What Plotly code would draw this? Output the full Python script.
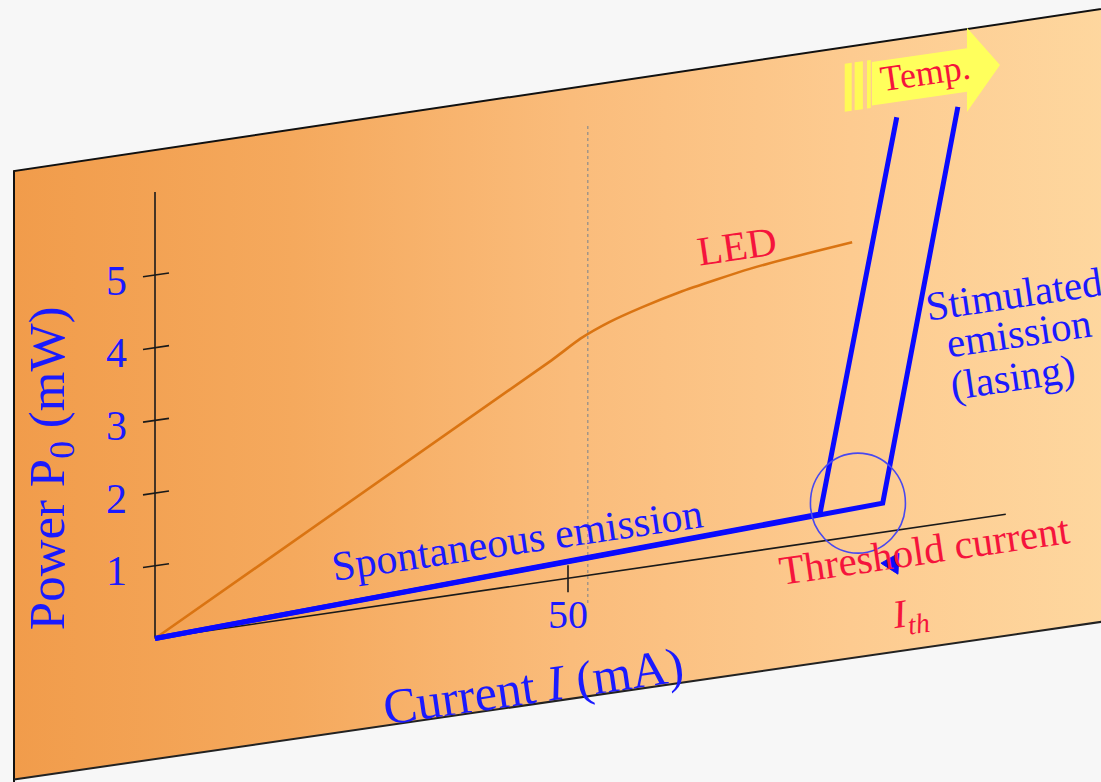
import math
import plotly.graph_objects as go

# ---------------------------------------------------------------------------
# Data: optical output power P (mW) versus drive current I (mA)
# ---------------------------------------------------------------------------
POWER_TICKS = [1, 2, 3, 4, 5]
CURRENT_TICKS = [50]
CURRENT_MAX = 103.0
POWER_MAX = 6.14

# LED: linear at low current, saturating at high current
LED_I = [0, 48.0, 51.5, 55.0, 59.0, 63.5, 68.0, 72.0, 76.0, 80.0, 84.4]
LED_P = [0, 3.03, 3.27, 3.44, 3.58, 3.71, 3.81, 3.89, 3.95, 4.00, 4.05]

# Laser diode at two temperatures: spontaneous emission up to threshold, then lasing
LASER_LOW_I = [0, 80.5, 89.8]
LASER_LOW_P = [0, 0.377, 5.68]
LASER_HIGH_I = [0, 88.1, 97.2]
LASER_HIGH_P = [0, 0.40, 5.70]

# LED knee guide (vertical dotted line)
KNEE_I = 52.4
KNEE_P_RANGE = [-0.38, 6.19]

# Threshold marker centre and temperature arrow (in I, P units)
THRESH_MARK = (85.1, 0.45)
TEMP_ARROW_I = [83.5, 86.8, 98.3, 102.3]   # stripes start, body start, head start, tip
TEMP_ARROW_P = 6.19

# Label anchors (I, P)
LABELS = {
    "LED": (70.5, 4.23),
    "Spontaneous emission": (43.9, 0.63),
    "Stimulated": (104.0, 3.02),
    "emission": (104.6, 2.47),
    "(lasing)": (103.8, 1.88),
    "Threshold current": (93.2, -0.33),
    "Ith": (91.4, -1.19),
    "Temp.": (93.2, 6.23),
    "xtitle": (45.8, -1.41),
    "ytitle": (-12.6, 2.55),
}

# ---------------------------------------------------------------------------
# Sheared drawing frame (the slide is drawn in an oblique view)
# ---------------------------------------------------------------------------
W, H = 1101, 782
X0, Y0 = 155.0, 638.5      # pixel position of the origin
SX, SY = 8.26, 72.7        # px per mA, px per mW
SHEAR = 0.146              # rise of the current axis per pixel
ANGLE = -math.degrees(math.atan(SHEAR))

SERIF = "Liberation Serif, Times New Roman, serif"
BLUE = "#1a1aff"
LINE_BLUE = "#0a0aff"
RED = "#f5143c"
ORANGE_LINE = "#da7412"


def to_px(i, p):
    x = X0 + SX * i
    y = Y0 - SHEAR * SX * i - SY * p
    return x, y


def path(I, P):
    xs, ys = [], []
    for i, p in zip(I, P):
        x, y = to_px(i, p)
        xs.append(x)
        ys.append(y)
    return xs, ys


fig = go.Figure()

# --- slide panel with horizontal gradient -----------------------------------
def top_edge(x):
    return 171.0 - 0.149 * (x - 14)


def bottom_edge(x):
    return 779.5 - 0.145 * (x - 14)


px_l, px_r = 14.0, 1130.0
fig.add_trace(go.Scatter(
    x=[px_l, px_r, px_r, px_l, px_l],
    y=[top_edge(px_l), top_edge(px_r), bottom_edge(px_r), bottom_edge(px_l), top_edge(px_l)],
    mode="lines", fill="toself", line=dict(width=0),
    fillgradient=dict(type="horizontal", colorscale=[
        [0.0, "#f19c4b"], [0.25, "#f5a95d"], [0.5, "#fabc7b"],
        [0.75, "#fdcb90"], [1.0, "#fed8a0"]]),
    hoverinfo="skip"))

# panel border
fig.add_trace(go.Scatter(
    x=[px_r, px_l, px_l], y=[top_edge(px_r), top_edge(px_l), H + 5],
    mode="lines", line=dict(color="#111111", width=2), hoverinfo="skip"))
fig.add_trace(go.Scatter(
    x=[px_l, px_r], y=[bottom_edge(px_l), bottom_edge(px_r)],
    mode="lines", line=dict(color="#222222", width=2), hoverinfo="skip"))

# --- LED knee guide -----------------------------------------------------------
gx, gy = path([KNEE_I, KNEE_I], KNEE_P_RANGE)
fig.add_trace(go.Scatter(x=gx, y=gy, mode="lines",
                         line=dict(color="#8c8c8c", width=1.2, dash="dot"),
                         hoverinfo="skip"))

# --- axes ---------------------------------------------------------------------
ax_x, ax_y = [], []
for seg in (([0, 0], [0, POWER_MAX]), ([0, CURRENT_MAX], [0, 0])):
    sx, sy = path(*seg)
    ax_x += sx + [None]
    ax_y += sy + [None]
for p in POWER_TICKS:
    sx, sy = path([-12 / SX, 14 / SX], [p, p])
    ax_x += sx + [None]
    ax_y += sy + [None]
for i in CURRENT_TICKS:
    cx, cy = to_px(i, 0)
    ax_x += [cx, cx, None]
    ax_y += [cy - 13, cy + 14, None]
fig.add_trace(go.Scatter(x=ax_x, y=ax_y, mode="lines",
                         line=dict(color="#1a1a1a", width=1.6), hoverinfo="skip"))

# --- curves -------------------------------------------------------------------
lx, ly = path(LED_I, LED_P)
fig.add_trace(go.Scatter(x=lx, y=ly, mode="lines",
                         line=dict(color=ORANGE_LINE, width=2.6, shape="spline", smoothing=0.5),
                         hoverinfo="skip"))
for I, P in ((LASER_HIGH_I, LASER_HIGH_P), (LASER_LOW_I, LASER_LOW_P)):
    bx, by = path(I, P)
    fig.add_trace(go.Scatter(x=bx, y=by, mode="lines",
                             line=dict(color=LINE_BLUE, width=5), hoverinfo="skip"))

# --- threshold marker ---------------------------------------------------------
cxm, cym = to_px(*THRESH_MARK)
fig.add_shape(type="circle", xref="x", yref="y",
              x0=cxm - 47.5, x1=cxm + 47.5, y0=cym - 50, y1=cym + 50,
              line=dict(color="#4848f0", width=1.6))
fig.add_trace(go.Scatter(
    x=[cxm + 23, cxm + 41, cxm + 40, cxm + 23],
    y=[cym + 60, cym + 50, cym + 71, cym + 60],
    mode="lines", fill="toself", fillcolor=LINE_BLUE,
    line=dict(color=LINE_BLUE, width=1), hoverinfo="skip"))

# --- temperature arrow --------------------------------------------------------
s0, b0, h0, tip = TEMP_ARROW_I
half_body, half_head = 0.30, 0.58
ax_pts = [(b0, TEMP_ARROW_P + half_body), (h0, TEMP_ARROW_P + half_body),
          (h0, TEMP_ARROW_P + half_head), (tip, TEMP_ARROW_P),
          (h0, TEMP_ARROW_P - half_head), (h0, TEMP_ARROW_P - half_body),
          (b0, TEMP_ARROW_P - half_body), (b0, TEMP_ARROW_P + half_body)]
yx, yy = path([a for a, _ in ax_pts], [b for _, b in ax_pts])
fig.add_trace(go.Scatter(x=yx, y=yy, mode="lines", fill="toself",
                         fillcolor="#ffff5c", line=dict(width=0), hoverinfo="skip"))
stripe_w = [(s0, s0 + 0.85), (s0 + 1.2, s0 + 2.2), (s0 + 2.7, s0 + 3.15)]
for a, b in stripe_w:
    pts = [(a, TEMP_ARROW_P + half_body + 0.03), (b, TEMP_ARROW_P + half_body + 0.03),
           (b, TEMP_ARROW_P - half_body - 0.03), (a, TEMP_ARROW_P - half_body - 0.03),
           (a, TEMP_ARROW_P + half_body + 0.03)]
    sx, sy = path([q for q, _ in pts], [r for _, r in pts])
    fig.add_trace(go.Scatter(x=sx, y=sy, mode="lines", fill="toself",
                             fillcolor="rgba(255,255,80,0.9)", line=dict(width=0),
                             hoverinfo="skip"))

# --- text ---------------------------------------------------------------------
ann = []


def label(text, key, size, color, angle=ANGLE):
    x, y = to_px(*LABELS[key])
    ann.append(dict(x=x, y=y, xref="x", yref="y", text=text, showarrow=False,
                    xanchor="center", yanchor="middle", textangle=angle,
                    font=dict(family=SERIF, size=size, color=color)))


label("LED", "LED", 41, RED)
label("Spontaneous emission", "Spontaneous emission", 42, BLUE)
label("Stimulated", "Stimulated", 41, BLUE)
label("emission", "emission", 41, BLUE)
label("(lasing)", "(lasing)", 41, BLUE)
label("Threshold current", "Threshold current", 41, RED)
label("<i>I</i><sub><i>th</i></sub>", "Ith", 40, RED)
label("Temp.", "Temp.", 36, RED)
label("Current <i>I</i> (mA)", "xtitle", 50, BLUE)
label("Power P<sub>0</sub> (mW)", "ytitle", 51, BLUE, angle=-90)

for p in POWER_TICKS:
    x, y = to_px(0, p)
    ann.append(dict(x=x - 39, y=y + SHEAR * 39, xref="x", yref="y", text=str(p),
                    showarrow=False, xanchor="center", yanchor="middle",
                    font=dict(family=SERIF, size=42, color=BLUE)))
for i in CURRENT_TICKS:
    x, y = to_px(i, 0)
    ann.append(dict(x=x, y=y + 36, xref="x", yref="y", text=str(i),
                    showarrow=False, xanchor="center", yanchor="middle",
                    font=dict(family=SERIF, size=40, color=BLUE)))

fig.update_layout(
    width=W, height=H,
    margin=dict(l=0, r=0, t=0, b=0),
    paper_bgcolor="#f7f7f7", plot_bgcolor="#f7f7f7",
    showlegend=False,
    xaxis=dict(range=[0, W], visible=False, fixedrange=True),
    yaxis=dict(range=[H, 0], visible=False, fixedrange=True),
    annotations=ann,
)

fig.write_html("out.html")
